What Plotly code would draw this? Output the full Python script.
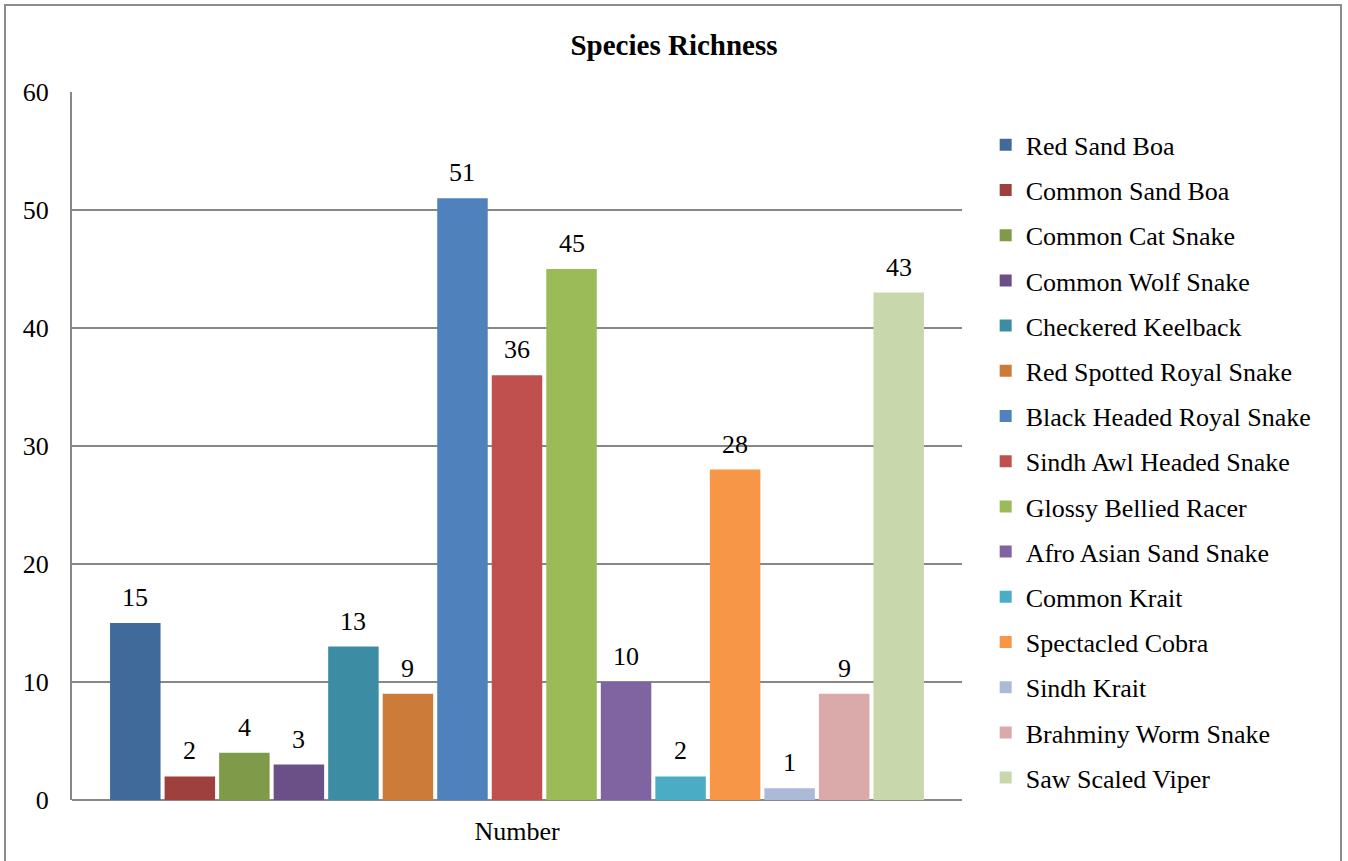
import plotly.graph_objects as go

# Snake species recorded and their counts
species = [
    "Red Sand Boa", "Common Sand Boa", "Common Cat Snake", "Common Wolf Snake",
    "Checkered Keelback", "Red Spotted Royal Snake", "Black Headed Royal Snake",
    "Sindh Awl Headed Snake", "Glossy Bellied Racer", "Afro Asian Sand Snake",
    "Common Krait", "Spectacled Cobra", "Sindh Krait", "Brahminy Worm Snake",
    "Saw Scaled Viper",
]
counts = [15, 2, 4, 3, 13, 9, 51, 36, 45, 10, 2, 28, 1, 9, 43]
colors = [
    "#3F6A9A", "#9E413E", "#7F9A48", "#6A5086", "#3C8DA3", "#CC7B38",
    "#4F81BD", "#C0504D", "#9BBB59", "#8064A2", "#4BACC6", "#F79646",
    "#AABAD7", "#D9AAA9", "#C9D7AD",
]
category = "Number"
y_ticks = [0, 10, 20, 30, 40, 50, 60]

FONT = "Liberation Serif, Times New Roman, serif"
FS = 26
GRID = "#878787"
BARGAP = 0.081
BARGROUPGAP = 0.074

fig = go.Figure()
for i, (name, val, col) in enumerate(zip(species, counts, colors)):
    fig.add_trace(go.Bar(
        x=[category], y=[val], name=name,
        marker=dict(color=col, line=dict(width=0)),
        legendgroup=name,
    ))

# Value labels placed above each bar of the group
n = len(species)
group_w = 1 - BARGAP
slot = group_w / n
annotations = []
for i, val in enumerate(counts):
    xc = -group_w / 2 + slot * (i + 0.5)
    annotations.append(dict(
        x=xc, y=val, xref="x", yref="y", text=str(val), showarrow=False,
        yanchor="bottom", yshift=9,
        font=dict(family=FONT, size=FS, color="#000000"),
    ))

fig.update_layout(
    width=1348, height=861,
    margin=dict(l=72, r=386, t=92, b=61),
    paper_bgcolor="white", plot_bgcolor="white",
    barmode="group", bargap=BARGAP, bargroupgap=BARGROUPGAP,
    font=dict(family=FONT, size=FS, color="#000000"),
    title=dict(
        text="<b>Species Richness</b>", x=0.5, xref="container",
        y=1 - 45 / 861, yref="container", yanchor="middle",
        font=dict(family=FONT, size=29, color="#000000"),
    ),
    showlegend=True,
    legend=dict(
        x=1.0266, xanchor="left", y=1 - 29.4 / 708, yanchor="top",
        traceorder="grouped", tracegroupgap=8.4,
        font=dict(family=FONT, size=FS, color="#000000"),
        bgcolor="rgba(0,0,0,0)", borderwidth=0,
    ),
    annotations=annotations,
    xaxis=dict(
        type="category", showgrid=False, showline=False, ticks="",
        ticklabelstandoff=13, zeroline=False,
        tickfont=dict(family=FONT, size=FS, color="#000000"),
    ),
    yaxis=dict(
        range=[0, 60], tickvals=y_ticks, showgrid=True, gridcolor=GRID,
        gridwidth=2, showline=True, linecolor=GRID, linewidth=2,
        zeroline=True, zerolinecolor=GRID, zerolinewidth=2, ticks="",
        ticklabelstandoff=16,
        tickfont=dict(family=FONT, size=FS, color="#000000"),
    ),
    shapes=[dict(
        type="rect", xref="paper", yref="paper",
        x0=(5 - 72) / 890, x1=(1341 - 72) / 890,
        y0=-0.2, y1=(800 - 5) / 708,
        line=dict(color="#8C8C8C", width=2), fillcolor="rgba(0,0,0,0)",
        layer="below",
    )],
)

fig.write_html("out.html")
